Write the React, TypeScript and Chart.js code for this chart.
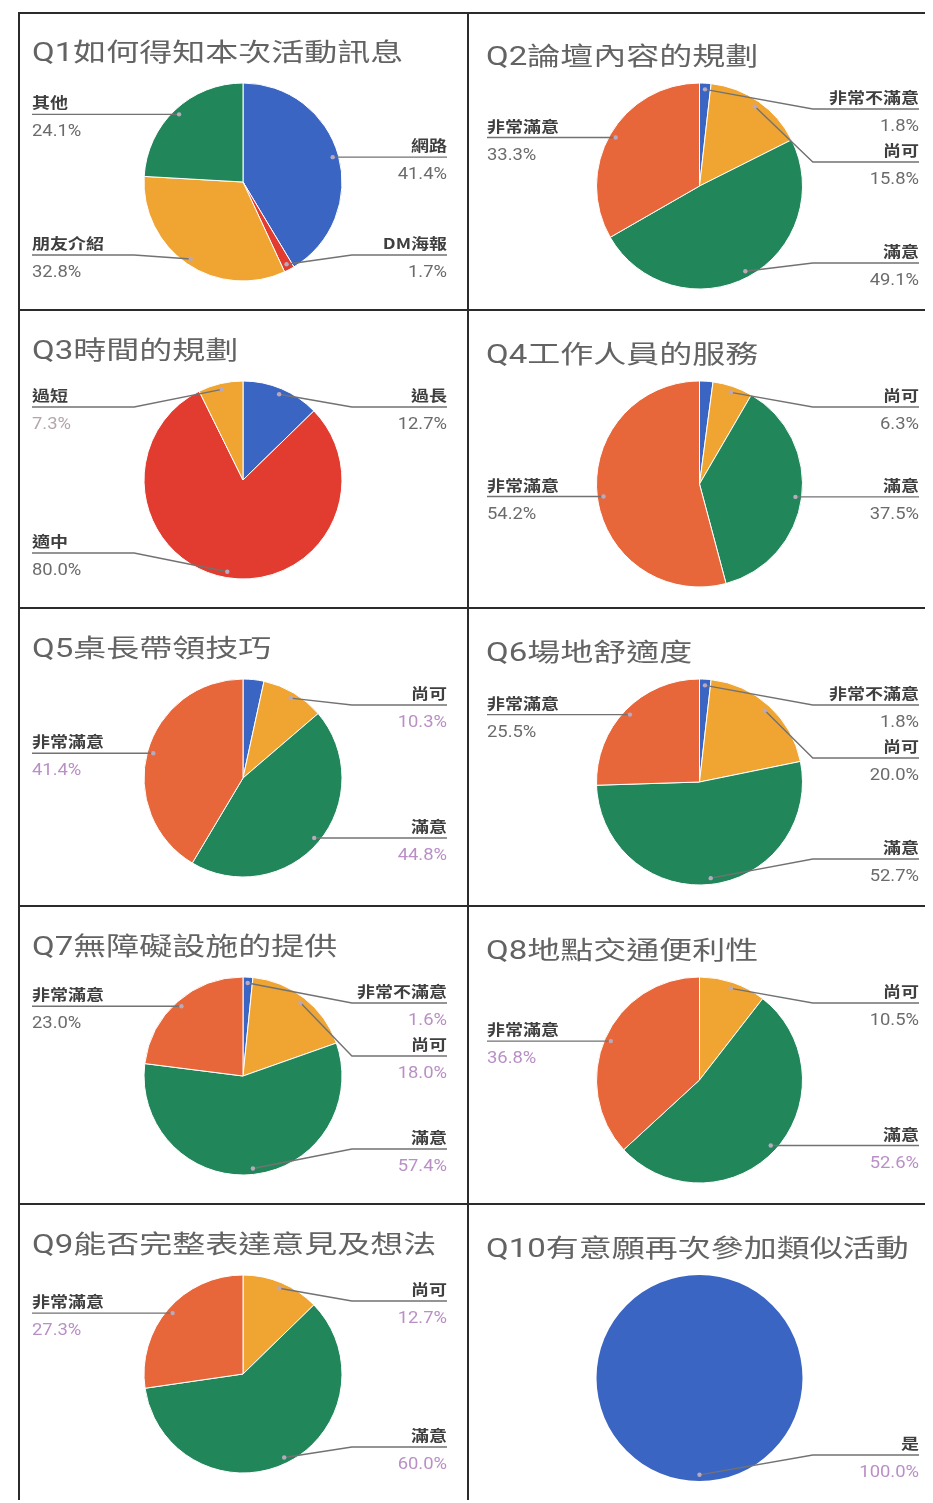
import React, { useEffect, useRef } from 'react';
import { Chart, registerables } from 'chart.js';

Chart.register(...registerables);

// ---------- data ----------
const q1Title = 'Q1如何得知本次活動訊息';
const q1Labels = ['網路', 'DM海報', '朋友介紹', '其他'];
const q1Values = [41.4, 1.7, 32.8, 24.1];

const q2Title = 'Q2論壇內容的規劃';
const q2Labels = ['非常不滿意', '尚可', '滿意', '非常滿意'];
const q2Values = [1.8, 15.8, 49.1, 33.3];

const q3Title = 'Q3時間的規劃';
const q3Labels = ['過長', '適中', '過短'];
const q3Values = [12.7, 80.0, 7.3];

const q4Title = 'Q4工作人員的服務';
const q4Labels = ['非常不滿意', '尚可', '滿意', '非常滿意'];
const q4Values = [2.1, 6.3, 37.5, 54.2];

const q5Title = 'Q5桌長帶領技巧';
const q5Labels = ['非常不滿意', '尚可', '滿意', '非常滿意'];
const q5Values = [3.4, 10.3, 44.8, 41.4];

const q6Title = 'Q6場地舒適度';
const q6Labels = ['非常不滿意', '尚可', '滿意', '非常滿意'];
const q6Values = [1.8, 20.0, 52.7, 25.5];

const q7Title = 'Q7無障礙設施的提供';
const q7Labels = ['非常不滿意', '尚可', '滿意', '非常滿意'];
const q7Values = [1.6, 18.0, 57.4, 23.0];

const q8Title = 'Q8地點交通便利性';
const q8Labels = ['尚可', '滿意', '非常滿意'];
const q8Values = [10.5, 52.6, 36.8];

const q9Title = 'Q9能否完整表達意見及想法';
const q9Labels = ['尚可', '滿意', '非常滿意'];
const q9Values = [12.7, 60.0, 27.3];

const q10Title = 'Q10有意願再次參加類似活動';
const q10Labels = ['是'];
const q10Values = [100.0];

// ---------- styling ----------
const PALETTE = ['#3b65c3', '#e23c31', '#f0a532', '#21875a', '#e7673a'];
const PCT = { g: '#6b6b6b', p: '#b98fc6', l: '#b3a5ae' };

const CHARTS = [
  { title: q1Title, labels: q1Labels, values: q1Values, colors: [0, 1, 2, 3], hidden: [], pct: ['g', 'g', 'g', 'g'] },
  { title: q2Title, labels: q2Labels, values: q2Values, colors: [0, 2, 3, 4], hidden: [], pct: ['g', 'g', 'g', 'g'] },
  { title: q3Title, labels: q3Labels, values: q3Values, colors: [0, 1, 2], hidden: [], pct: ['g', 'g', 'l'] },
  { title: q4Title, labels: q4Labels, values: q4Values, colors: [0, 2, 3, 4], hidden: [0], pct: ['g', 'g', 'g', 'g'] },
  { title: q5Title, labels: q5Labels, values: q5Values, colors: [0, 2, 3, 4], hidden: [0], pct: ['p', 'p', 'p', 'p'] },
  { title: q6Title, labels: q6Labels, values: q6Values, colors: [0, 2, 3, 4], hidden: [], pct: ['g', 'g', 'g', 'g'] },
  { title: q7Title, labels: q7Labels, values: q7Values, colors: [0, 2, 3, 4], hidden: [], pct: ['p', 'p', 'p', 'g'] },
  { title: q8Title, labels: q8Labels, values: q8Values, colors: [2, 3, 4], hidden: [], pct: ['g', 'p', 'p'] },
  { title: q9Title, labels: q9Labels, values: q9Values, colors: [2, 3, 4], hidden: [], pct: ['p', 'p', 'p'] },
  { title: q10Title, labels: q10Labels, values: q10Values, colors: [0], hidden: [], pct: ['p'] },
];

const ROW_H = 298;
const COL_W = [450, 463];
const GEO = [
  { cy: 170, r: 99, titleX: 14, titleY: 49, labL: 14, labR: 429 },
  { cy: 174, r: 103, titleX: 18, titleY: 53, labL: 19, labR: 451 },
];

function drawScaled(ctx: CanvasRenderingContext2D, text: string, x: number, y: number, align: CanvasTextAlign, sx: number) {
  ctx.save();
  ctx.translate(x, y);
  ctx.scale(sx, 1);
  ctx.textAlign = align;
  ctx.fillText(text, 0, 0);
  ctx.restore();
}

function makePlugin(cfg: any, geo: any) {
  return {
    id: 'gfLabels',
    afterDraw(chart: any) {
      const ctx: CanvasRenderingContext2D = chart.ctx;
      ctx.save();
      ctx.textBaseline = 'alphabetic';
      ctx.fillStyle = '#636363';
      ctx.font = '400 25px Roboto, "Noto Sans CJK TC", sans-serif';
      drawScaled(ctx, cfg.title, geo.titleX, geo.titleY, 'left', 1.32);

      const meta = chart.getDatasetMeta(0);
      const items: any[] = [];
      meta.data.forEach((arc: any, i: number) => {
        if (cfg.hidden.includes(i)) return;
        const p = arc.getProps(['x', 'y', 'startAngle', 'endAngle', 'outerRadius'], true);
        const mid = (p.startAngle + p.endAngle) / 2;
        const ax = p.x + Math.cos(mid) * p.outerRadius * 0.94;
        const ay = p.y + Math.sin(mid) * p.outerRadius * 0.94;
        const side = Math.cos(mid) >= -1e-6 ? 'right' : 'left';
        items.push({ i, ax, ay, side, cx: p.x, cy: p.y, r: p.outerRadius, ly: 0 });
      });

      const gap = 53;
      ['left', 'right'].forEach((side) => {
        const arr = items.filter((it) => it.side === side).sort((a, b) => a.ay - b.ay);
        if (!arr.length) return;
        const { cy, r } = arr[0];
        const minY = cy - r + 26;
        const maxY = cy + r - 26;
        arr.forEach((it, k) => {
          let ly = Math.min(Math.max(it.ay, minY), maxY);
          if (k > 0) ly = Math.max(ly, arr[k - 1].ly + gap);
          it.ly = ly;
        });
        for (let k = arr.length - 1; k >= 0; k--) {
          const lim = k === arr.length - 1 ? maxY : arr[k + 1].ly - gap;
          if (arr[k].ly > lim) arr[k].ly = lim;
        }
      });

      items.forEach((it) => {
        const right = it.side === 'right';
        const elbowX = right ? Math.max(it.cx + 1.1 * it.r, it.ax) : Math.min(it.cx - 1.1 * it.r, it.ax);
        const edgeX = right ? geo.labR : geo.labL;
        ctx.strokeStyle = '#727272';
        ctx.lineWidth = 1.4;
        ctx.beginPath();
        ctx.moveTo(edgeX, it.ly);
        ctx.lineTo(elbowX, it.ly);
        ctx.lineTo(it.ax, it.ay);
        ctx.stroke();
        ctx.fillStyle = '#b9a9bd';
        ctx.beginPath();
        ctx.arc(it.ax, it.ay, 2.2, 0, Math.PI * 2);
        ctx.fill();

        ctx.fillStyle = '#3f3f3f';
        ctx.font = '700 15px "Noto Sans CJK TC", sans-serif';
        drawScaled(ctx, cfg.labels[it.i], edgeX, it.ly - 6, right ? 'right' : 'left', 1.2);
        ctx.fillStyle = PCT[cfg.pct[it.i] as keyof typeof PCT];
        ctx.font = '400 16px Roboto, sans-serif';
        drawScaled(ctx, cfg.values[it.i].toFixed(1) + '%', edgeX, it.ly + 22, right ? 'right' : 'left', 1.15);
      });
      ctx.restore();
    },
  };
}

function PieCell({ cfg, col, row }: { cfg: any; col: number; row: number }) {
  const ref = useRef<HTMLCanvasElement>(null);
  const w = COL_W[col];
  const geo = GEO[col];
  useEffect(() => {
    if (!ref.current) return;
    const single = cfg.values.length === 1;
    const chart = new Chart(ref.current, {
      type: 'pie',
      data: {
        labels: cfg.labels,
        datasets: [
          {
            data: cfg.values,
            backgroundColor: cfg.colors.map((c: number) => PALETTE[c]),
            borderColor: '#ffffff',
            borderWidth: single ? 0 : 1,
          },
        ],
      },
      options: {
        responsive: false,
        maintainAspectRatio: false,
        animation: false,
        devicePixelRatio: 1,
        events: [],
        radius: geo.r,
        layout: { padding: { top: 2 * geo.cy - ROW_H, bottom: 0, left: 0, right: 0 } },
        plugins: { legend: { display: false }, title: { display: false }, tooltip: { enabled: false } },
      } as any,
      plugins: [makePlugin(cfg, geo)],
    });
    return () => chart.destroy();
  }, []);
  return (
    <canvas
      ref={ref}
      width={w}
      height={ROW_H}
      style={{ position: 'absolute', left: col === 0 ? 0 : COL_W[0], top: row * ROW_H, width: w, height: ROW_H, display: 'block' }}
    />
  );
}

export default function App() {
  const totalW = COL_W[0] + COL_W[1];
  const totalH = ROW_H * 5;
  const lineColor = '#2b2b2b';
  return (
    <div style={{ position: 'relative', left: 10, top: 4, width: totalW, height: totalH + 2, background: '#ffffff' }}>
      {CHARTS.map((c, i) => (
        <PieCell key={i} cfg={c} col={i % 2} row={Math.floor(i / 2)} />
      ))}
      <div style={{ position: 'absolute', left: 0, top: 0, width: totalW, height: totalH + 2, border: `2px solid ${lineColor}`, boxSizing: 'border-box', pointerEvents: 'none' }} />
      <div style={{ position: 'absolute', left: COL_W[0] - 1, top: 0, width: 2, height: totalH + 2, background: lineColor }} />
      {[1, 2, 3, 4].map((k) => (
        <div key={k} style={{ position: 'absolute', left: 0, top: k * ROW_H - 1, width: totalW, height: 2, background: lineColor }} />
      ))}
    </div>
  );
}
